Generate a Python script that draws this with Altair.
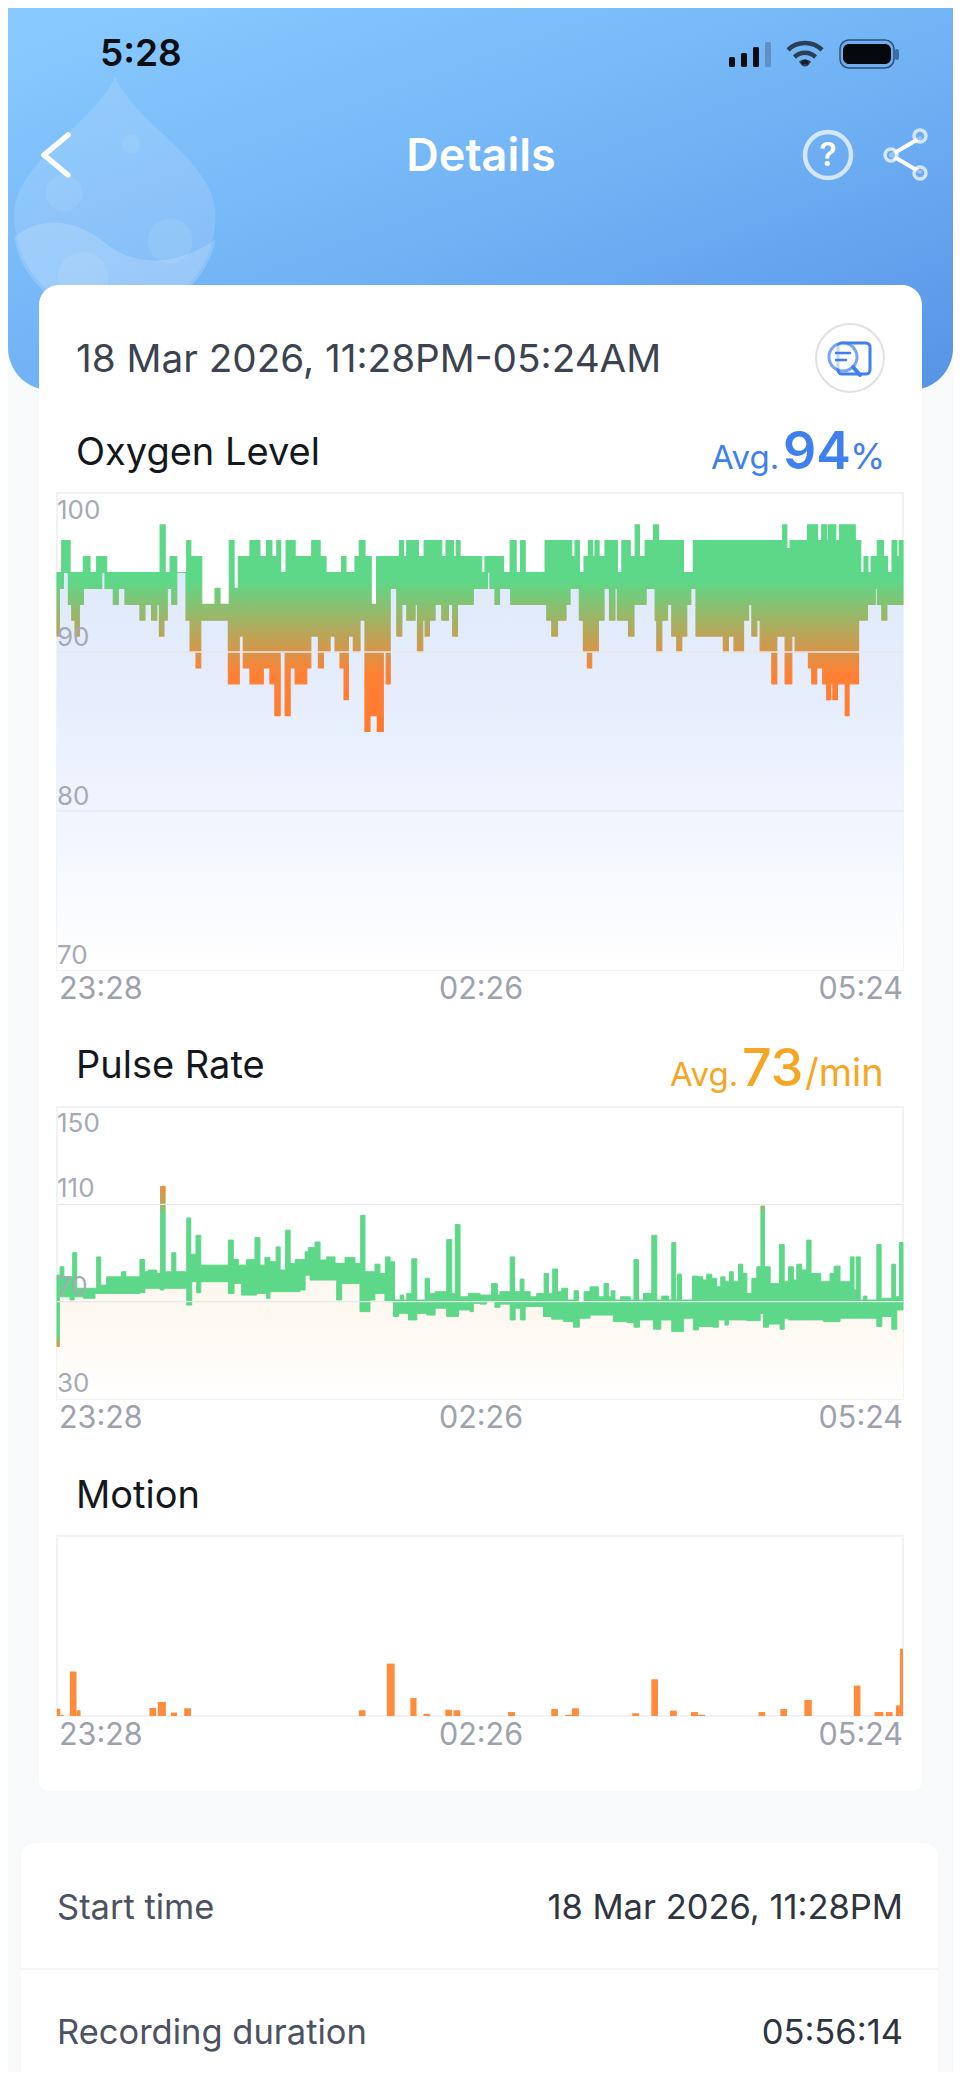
import numpy as np
import pandas as pd
import altair as alt

# minutes since 23:28, one (start, value) pair per run
spo2_hi = [(0, 95), (2, 97), (5.5, 95), (11.1, 96), (13.9, 95), (16.7, 96), (20.9, 95), (43.4, 98), (45.5, 95),
           (47.6, 96), (50.4, 95), (54.6, 97), (56.3, 96), (60.9, 93), (66.5, 94), (68.6, 93), (72.5, 97), (74.5, 94),
           (76.3, 96), (81.2, 97), (85.4, 96), (88.2, 97), (90.4, 96), (92.5, 97), (94.1, 95), (96.4, 97), (100.2, 96),
           (107.2, 97), (110.7, 96), (113.2, 95), (119.8, 96), (121.6, 95), (125.4, 96), (127.2, 97), (129.6, 96),
           (132.2, 93), (134.5, 96), (144.1, 97), (145.8, 96), (147.2, 97), (152.1, 96), (154.5, 97), (160, 96),
           (160.5, 97), (161.9, 96), (163.7, 97), (166.8, 96), (168, 97), (169.6, 96), (178.7, 95), (180.1, 96),
           (187.9, 95), (190.7, 97), (193.2, 95), (195.1, 97), (197, 95), (205.4, 97), (216.6, 96), (218, 97),
           (219.8, 95), (221.8, 96), (223.6, 97), (225.4, 96), (226.4, 97), (228.1, 96), (230.6, 97), (235.8, 95),
           (237.7, 97), (241.2, 96), (243.3, 98), (245.1, 96), (247.5, 97), (251, 98), (253.1, 97), (263.6, 95),
           (267.8, 97), (305.4, 98), (307.1, 96.5), (308.5, 97), (315.8, 98), (320, 97), (321.8, 98), (323.9, 97),
           (324.6, 98), (327.7, 97), (329.3, 98), (335.9, 97), (338.2, 95), (339.6, 96), (341.2, 95), (342.6, 96),
           (345.2, 97), (347.8, 96), (349.5, 95), (351.4, 97), (353.4, 96), (354.4, 97)]
spo2_lo = [(0, 91), (1, 94), (2.7, 95), (4.8, 93), (6.2, 92), (7.6, 91), (9.4, 93), (11.1, 94), (18.8, 95), (20.2, 94),
           (23.7, 93), (25.8, 94), (28.6, 93), (34.9, 92), (37, 93), (39.8, 92), (42, 93), (43.1, 91), (45, 92),
           (46.4, 94), (48.3, 93), (50.4, 95), (54.3, 92), (56, 90), (58.5, 89), (60.5, 92), (72.1, 88), (76.7, 91),
           (78.4, 89), (81.2, 88), (86.8, 89), (89.6, 88), (91.7, 86), (93.9, 90), (96, 86), (98.1, 89), (100.2, 88),
           (105.1, 89), (106.8, 91), (110, 89), (112.1, 90), (114.9, 91), (117, 90), (119.1, 89), (120.8, 87),
           (122.6, 91), (124.7, 90), (127.5, 92), (129.6, 85), (131.7, 86), (134.8, 85), (137.3, 90), (138.5, 88),
           (140.2, 94), (143, 91), (145.1, 93), (147.2, 92), (150.7, 93), (151.7, 90), (153.9, 92), (154.9, 91),
           (156.7, 92), (159.1, 93), (161.9, 92), (164.7, 93), (166.5, 91), (168.5, 93), (175.2, 94), (181.1, 95),
           (182.2, 94), (184.3, 93), (186.2, 94), (190.9, 93), (206.1, 92), (208.2, 91), (210.6, 92), (214.2, 93),
           (215.9, 94), (219.8, 92), (221.5, 90), (223.2, 89), (225, 90), (227.8, 92), (230.2, 94), (232.5, 92),
           (234.8, 94), (235.8, 92), (240.5, 91), (242.8, 93), (247.9, 94), (251.7, 92), (252.4, 90), (254.5, 92),
           (256.9, 93), (258.7, 91), (260.8, 90), (262.9, 91), (265, 93), (266.7, 94), (268.9, 91), (280.4, 90),
           (282.5, 91), (284.9, 90), (288.9, 92), (291, 93), (292.4, 91), (294.5, 92), (295.9, 90), (300.8, 88),
           (302.9, 91), (306.4, 88), (309.2, 91), (310.6, 90), (316.2, 89), (317.6, 88), (319.7, 89), (322.2, 88),
           (323.9, 87), (325.6, 88), (326.5, 87), (328.4, 88), (331.7, 86), (333.3, 88), (337.3, 92), (341, 93),
           (344.3, 94), (345.2, 93), (347.1, 92), (349.2, 93)]

pulse_hi = [(0, 80.9), (1.3, 84.3), (2.9, 80.2), (6.6, 90.1), (8.3, 75.5), (16.7, 88.4), (18.4, 76.8), (20.9, 80.2),
            (27.2, 82.3), (29, 80.2), (34.9, 87.3), (36.9, 82.3), (38.4, 83), (42, 81.6), (43.6, 117.4), (45.5, 82.3),
            (48.3, 90.1), (50, 82.3), (54.6, 104.4), (56.3, 89.5), (58.5, 97.3), (60.5, 85), (72.1, 95.3), (74.2, 87.3),
            (76.3, 85), (79.8, 87.3), (83.3, 96.4), (85.4, 85), (87.5, 88.2), (89.6, 86.4), (92.2, 92.5), (93.9, 83),
            (96.2, 99.4), (98.1, 85.7), (100.2, 87.3), (104.4, 90.5), (105.8, 92.3), (108.6, 94.5), (110.7, 87.1),
            (113.5, 88.4), (117, 85.7), (121.2, 88.2), (125.4, 85.7), (127.8, 105.5), (129.6, 82.3), (133.8, 85.4),
            (135.9, 81.6), (138.2, 88.4), (140.2, 86.4), (142, 70.7), (144.4, 72.7), (145.8, 70.7), (147.2, 73.4),
            (149.3, 87.6), (151.4, 70.7), (154.9, 79.6), (156.7, 73.4), (159.1, 74.1), (164, 95.5), (166.1, 73.4),
            (167.6, 101.7), (169.6, 72), (173.1, 73.4), (178, 72.7), (182.9, 77.5), (185.3, 72.7), (186.4, 74.1),
            (190.7, 88.4), (192.5, 74.1), (194.9, 79.3), (196.5, 74.1), (199.1, 72), (201.9, 73.4), (205, 81.6),
            (206.8, 73.4), (208.6, 83.4), (210.6, 74.1), (212.4, 75.5), (214.8, 70.7), (217.6, 74.5), (219.4, 70),
            (221.8, 74.1), (224.3, 76.1), (227.8, 72), (230.2, 77.5), (232, 72), (233.2, 74.5), (234.8, 70.7),
            (237.2, 72), (241.2, 70.7), (242.8, 87.3), (244.7, 70.7), (246.8, 73.4), (250.3, 97.3), (252.4, 70.7),
            (254.5, 72.3), (257.3, 70.7), (258.7, 94.3), (260.4, 70.7), (261.1, 81.3), (262.8, 70.7), (267.4, 80.5),
            (269.9, 80.2), (271.7, 78.9), (273.4, 81.3), (275.5, 79.6), (277.6, 76.1), (279.3, 80.2), (281.1, 78.2),
            (283, 82.3), (284.6, 78.2), (286.8, 85.4), (288.6, 81.6), (290.3, 73.4), (292.4, 79.6), (294.5, 84.3),
            (296.2, 109.3), (297.7, 84.3), (300.1, 77.5), (304, 93.5), (306, 78.2), (307.8, 84.3), (309.9, 78.9),
            (311.3, 85.4), (313.4, 83), (315.5, 95.3), (317.3, 81.6), (321.4, 78.2), (325.3, 81.6), (327, 84.6),
            (329.5, 78.2), (333.8, 88.4), (335.4, 74.8), (336.3, 88.4), (338, 70.7), (339.4, 72.3), (340.8, 70.7),
            (345, 93.5), (346.8, 71.4), (351.3, 85.4), (352.8, 72), (354.5, 94.3)]
pulse_lo = [(0, 51.6), (1, 72), (5.5, 70.7), (7.2, 72), (11.1, 71.4), (16, 73.4), (34.9, 73.7), (37, 75.5), (43.4, 74.8),
            (45, 75.5), (54.6, 68.6), (56.7, 78.2), (58.8, 73.7), (60.5, 78.2), (72.1, 73.4), (74.5, 77.5), (77.7, 72.7),
            (84, 73.4), (88.2, 71.4), (89.6, 74.1), (102.3, 74.8), (104.4, 80.9), (106.5, 78.9), (117.7, 70.7),
            (119.8, 77.5), (127.5, 65.9), (131.7, 70.7), (133.8, 73.4), (138, 70), (141.6, 63.9), (143.7, 65.2),
            (147.9, 62.5), (151.4, 65.2), (155.6, 64.5), (159.1, 67.3), (164, 63.9), (168.9, 66.6), (173.8, 65.9),
            (175.2, 69.3), (178, 69), (180.8, 70), (184.3, 67.7), (186.4, 69), (190.7, 62.5), (192.8, 67.3), (195.1, 62.5),
            (197, 68), (204.7, 63.9), (208.2, 62.8), (213.1, 61.8), (217.3, 59.5), (219.8, 63.2), (224.3, 64.5),
            (234.1, 61.8), (239.8, 61.4), (242.8, 59.5), (245.1, 62.5), (251, 58.7), (254.1, 62.5), (258.7, 57.7),
            (263.6, 63.2), (267.8, 58.4), (269.9, 59.8), (276.2, 59.5), (278.3, 62.5), (281.1, 60.4), (282.5, 62.5),
            (290.3, 62.2), (295.9, 65.2), (297.3, 59.5), (299.4, 60.8), (304.3, 58.7), (306, 63.2), (307.8, 62.5),
            (322.5, 61.8), (329.5, 63.2), (345, 59.8), (347.1, 63.9), (351.3, 58.7), (353.4, 66.6)]

# motion spikes: start minute, end minute, height (no scale printed, 0-100 of the box)
motion_start = [0, 1.4, 5.4, 8.2, 38.9, 42.4, 47.9, 53.5, 127, 138.8, 148.7, 154.2, 163.4, 166.9, 189.8, 208, 213.9,
                216.7, 242, 250.1, 257.9, 266.8, 269.7, 295.2, 304.4, 314.5, 335.3, 344, 348.8, 353, 354.7]
motion_end = [1.4, 2.8, 8.2, 9.9, 41.7, 45.8, 50.5, 56.4, 129.8, 142.1, 151.3, 157, 166.2, 169.7, 192.7, 210.8, 216.7,
              219.6, 244.9, 252.9, 260.8, 269.7, 272.7, 298, 307.2, 317.6, 338.1, 347.8, 351.6, 354.7, 356]
motion_val = [4.1, 0.7, 24.7, 3.2, 4.5, 7.8, 1.9, 4.3, 3.2, 29.1, 10, 1.1, 3.5, 3.2, 2.2, 3.9, 0.7, 4.3, 1.5, 20.4, 3,
              2.2, 0.7, 2.2, 3.9, 8.9, 16.9, 2.2, 2.2, 5.9, 37.3]

time_ticks = [0, 178, 356]
time_labels = ['23:28', '02:26', '05:24']
spo2_ticks = [100, 90, 80, 70]
pulse_ticks = [150, 110, 70, 30]

FONT = 'Inter'
BLUE = '#3F80EE'
AMBER = '#F5A623'
GREEN = '#5CD888'
TICK = '#A6AAB4'
GRID = '#ECEEF1'

one = pd.DataFrame({'a': [0]})


def px(v):
    # reference pixels to chart pixels (page margin)
    return v - 8


def label(txt, x, y, size, color, weight=400, align='left', baseline='middle'):
    return alt.Chart(one).mark_text(font=FONT, fontSize=size, fontWeight=weight, color=color, align=align,
                                    baseline=baseline).encode(
        x=alt.value(px(x)), y=alt.value(px(y)), text=alt.value(txt))


def box(x0, y0, x1, y1, **kw):
    return alt.Chart(one).mark_rect(**kw).encode(
        x=alt.value(px(x0)), x2=alt.value(px(x1)), y=alt.value(px(y0)), y2=alt.value(px(y1)))


def seg(x0, y0, x1, y1, color, w):
    return alt.Chart(one).mark_rule(color=color, strokeWidth=w, strokeCap='round').encode(
        x=alt.value(px(x0)), x2=alt.value(px(x1)), y=alt.value(px(y0)), y2=alt.value(px(y1)))


def dot(x, y, r, **kw):
    return alt.Chart(one).mark_point(shape='circle', size=4 * r * r, **kw).encode(
        x=alt.value(px(x)), y=alt.value(px(y)))


def glyph(x, y, r, path, **kw):
    return alt.Chart(one).mark_point(shape=path, size=4 * r * r, **kw).encode(
        x=alt.value(px(x)), y=alt.value(px(y)))


def grad(stops, x1=0, y1=0, x2=0, y2=1):
    return alt.Gradient(gradient='linear', x1=x1, y1=y1, x2=x2, y2=y2,
                        stops=[alt.GradientStop(offset=o, color=c) for o, c in stops])


def runs_to_frame(hi, lo):
    # the two envelopes change at different minutes, so line them up on all break points
    t_hi, v_hi = map(np.array, zip(*hi))
    t_lo, v_lo = map(np.array, zip(*lo))
    t = np.unique(np.concatenate([t_hi, t_lo, [356]]))
    return pd.DataFrame({
        't': t,
        'hi': v_hi[np.searchsorted(t_hi, t, side='right') - 1],
        'lo': v_lo[np.searchsorted(t_lo, t, side='right') - 1],
    })


def panel(df, ticks, domain, top, bottom, tick_dy, grid, band, fill, stroke_w):
    xs = alt.Scale(domain=[0, 356], range=[px(57), px(903)], nice=False, zero=False)
    ys = alt.Scale(domain=domain, range=[px(bottom), px(top)], nice=False, zero=False)
    x = alt.X('t:Q', scale=xs, axis=None)
    y = alt.Y('hi:Q', scale=ys, axis=None)
    base = df.assign(floor=domain[0])
    out = [
        box(57, top, 903, bottom, fill='#FFFFFF', stroke=GRID, strokeWidth=1.5),
        alt.Chart(base).mark_area(fill=fill, interpolate='step-after').encode(x=x, y=y, y2='floor:Q'),
        alt.Chart(base).mark_area(fill=band, stroke=band, strokeWidth=stroke_w, strokeJoin='round',
                                  interpolate='step-after').encode(x=x, y=y, y2='lo:Q'),
        alt.Chart(pd.DataFrame({'v': grid})).mark_rule(color='#E6E9EE', strokeWidth=1.4).encode(
            x=alt.value(px(57)), x2=alt.value(px(903)), y=alt.Y('v:Q', scale=ys, axis=None)),
    ]
    for tick, dy in zip(ticks, tick_dy):
        out.append(alt.Chart(pd.DataFrame({'v': [tick]})).mark_text(
            font=FONT, fontSize=26, color=TICK, align='left', baseline='middle', dx=0, dy=dy).encode(
            x=alt.value(px(57)), y=alt.Y('v:Q', scale=ys, axis=None), text='v:Q'))
    return out


def time_axis(y):
    xs = alt.Scale(domain=[0, 356], range=[px(57), px(903)], nice=False, zero=False)
    out = []
    for tick, txt, align, dx in zip(time_ticks, time_labels, ['left', 'center', 'right'], [2, 1, 0]):
        out.append(alt.Chart(pd.DataFrame({'t': [tick], 's': [txt]})).mark_text(
            font=FONT, fontSize=30.5, color='#9DA2AD', align=align, baseline='middle', dx=dx).encode(
            x=alt.X('t:Q', scale=xs, axis=None), y=alt.value(px(y)), text='s:N'))
    return out


header_fill = grad([(0, '#88C9FF'), (0.55, '#6FB0F4'), (1, '#5793E6')], x1=0.1, y1=0, x2=1, y2=1)
spo2_band = grad([(0, GREEN), (0.27, GREEN), (0.72, '#FF8034'), (1, '#FF7A30')])
spo2_fill = grad([(0, '#DEE8FB'), (0.4, '#E6EEFD'), (0.7, '#F3F6FE'), (1, '#FFFFFF')])
pulse_band = grad([(0, '#EE8F3A'), (0.1, '#B9A653'), (0.17, GREEN), (0.92, GREEN), (1, '#D9963F')])
pulse_fill = grad([(0, '#FDF6EC'), (0.6, '#FDF8F0'), (1, '#FFFFFF')])

DROP = ('M0,-0.98 C-0.2,-0.55 -0.875,-0.25 -0.875,0.22 C-0.875,0.72 -0.48,1.09 0,1.09 '
        'C0.48,1.09 0.875,0.72 0.875,0.22 C0.875,-0.25 0.2,-0.55 0,-0.98 Z')
WAVE = ('M-0.875,0.41 C-0.65,0.22 -0.35,0.25 -0.1,0.45 C0.1,0.62 0.45,0.72 0.875,0.43 '
        'C0.8,0.8 0.48,1.09 0,1.09 C-0.48,1.09 -0.82,0.8 -0.875,0.41 Z')
WIFI = ('M-1,-0.3 A1.45,1.45 0 0 1 1,-0.3 M-0.62,0.12 A0.9,0.9 0 0 1 0.62,0.12 '
        'M-0.27,0.5 A0.4,0.4 0 0 1 0.27,0.5')

layers = [
    box(8, 8, 953, 2100, fill='#F8F9FB'),
    box(8, 8, 953, 390, fill=header_fill, cornerRadiusBottomLeft=42, cornerRadiusBottomRight=42),
    glyph(115, 190, 115, DROP, filled=True, fill='#FFFFFF', opacity=0.13, strokeWidth=0),
    glyph(115, 190, 115, WAVE, filled=True, fill='#FFFFFF', opacity=0.17, strokeWidth=0),
    dot(131, 144, 9, filled=True, fill='#FFFFFF', opacity=0.08, stroke='#FFFFFF', strokeWidth=1),
    dot(64, 193, 18, filled=True, fill='#FFFFFF', opacity=0.08, stroke='#FFFFFF', strokeWidth=1),
    dot(170, 241, 22, filled=True, fill='#FFFFFF', opacity=0.08, stroke='#FFFFFF', strokeWidth=1),
    dot(83, 277, 25, filled=True, fill='#FFFFFF', opacity=0.08, stroke='#FFFFFF', strokeWidth=1),

    # status bar
    label('5:28', 100, 55, 37, '#0B0F14', 600),
    box(729, 57, 735, 67, fill='#0B0F14', cornerRadius=1.5),
    box(741, 53, 747, 67, fill='#0B0F14', cornerRadius=1.5),
    box(753, 47, 759, 67, fill='#0B0F14', cornerRadius=1.5),
    box(765, 42, 771, 67, fill='#5F8FC4', cornerRadius=1.5),
    glyph(805, 55, 17, WIFI, filled=False, stroke='#0B0F14', strokeWidth=4.5),
    dot(805, 63, 3.5, filled=True, fill='#0B0F14', strokeWidth=0),
    box(840, 40, 894, 68, fill='#6FAEF0', stroke='#2F4F75', strokeWidth=1.5, cornerRadius=9),
    box(843, 44, 891, 64, fill='#05080C', cornerRadius=6),
    box(895, 49, 899, 60, fill='#3D6DA5', cornerRadius=2),

    # nav bar
    seg(68, 135, 44, 155, '#FFFFFF', 5.5),
    seg(44, 155, 68, 175, '#FFFFFF', 5.5),
    label('Details', 481, 157, 45, '#FFFFFF', 600, align='center'),
    dot(828, 155, 23, filled=False, stroke='#FFFFFF', strokeWidth=4.5),
    label('?', 828, 156, 32, '#FFFFFF', 600, align='center'),
    seg(920, 138, 891, 155, '#FFFFFF', 4),
    seg(891, 155, 920, 172, '#FFFFFF', 4),
    dot(920, 136, 6, filled=True, fill='#6EAAF0', stroke='#FFFFFF', strokeWidth=3.5),
    dot(891, 155, 6, filled=True, fill='#6EAAF0', stroke='#FFFFFF', strokeWidth=3.5),
    dot(920, 173, 6, filled=True, fill='#6EAAF0', stroke='#FFFFFF', strokeWidth=3.5),

    # card
    box(39, 285, 922, 1791, fill='#FFFFFF', cornerRadiusTopLeft=20, cornerRadiusTopRight=20,
        cornerRadiusBottomLeft=10, cornerRadiusBottomRight=10),
    label('18 Mar 2026, 11:28PM-05:24AM', 76, 360, 38.7, '#3C4350'),
    dot(850, 358, 34, filled=True, fill='#FFFFFF', stroke='#D3D5DA', strokeWidth=2),
    box(838, 343, 870, 374, fill='#FFFFFF', stroke=BLUE, strokeWidth=3, cornerRadius=4),
    dot(843, 357, 14, filled=True, fill='#FFFFFF', stroke=BLUE, strokeWidth=3),
    seg(836, 353, 850, 353, BLUE, 2.5),
    seg(836, 360, 846, 360, BLUE, 2.5),
    seg(853, 367, 860, 375, BLUE, 4),

    label('Oxygen Level', 76, 454, 38, '#14171C'),
    label('Avg.', 711, 469, 33, BLUE, baseline='alphabetic'),
    label('94', 783, 469, 52, BLUE, 600, baseline='alphabetic'),
    label('%', 850, 469, 36, BLUE, baseline='alphabetic'),

    label('Pulse Rate', 76, 1067, 38, '#14171C'),
    label('Avg.', 670, 1086, 33, AMBER, baseline='alphabetic'),
    label('73', 742, 1086, 52, AMBER, 500, baseline='alphabetic'),
    label('/min', 805, 1086, 38, AMBER, baseline='alphabetic'),

    label('Motion', 76, 1497, 38, '#14171C'),

    # details table below the card
    box(21, 1843, 938, 2100, fill='#FFFFFF', cornerRadiusTopLeft=14, cornerRadiusTopRight=14),
    label('Start time', 57, 1909, 34.5, '#4C5261'),
    label('18 Mar 2026, 11:28PM', 903, 1909, 34.5, '#2F3540', align='right'),
    seg(21, 1969, 938, 1969, '#F1F2F5', 1.5),
    label('Recording duration', 57, 2034, 34.5, '#4C5261'),
    label('05:56:14', 903, 2034, 34.5, '#2F3540', align='right'),
]

layers += panel(runs_to_frame(spo2_hi, spo2_lo), spo2_ticks, [70, 100], 493, 970, [18, -14, -14, -14],
                [90, 80], spo2_band, spo2_fill, 1.2)
layers += time_axis(990)
layers += panel(runs_to_frame(pulse_hi, pulse_lo), pulse_ticks, [30, 150], 1107, 1399, [17, -15, -15, -15],
                [110, 70], pulse_band, pulse_fill, 1.0)
layers += time_axis(1419)

motion_df = pd.DataFrame({'t': motion_start, 't2': motion_end, 'v': motion_val, 'floor': 0})
layers += [
    box(57, 1536, 903, 1716, fill='#FFFFFF', stroke=GRID, strokeWidth=1.5),
    alt.Chart(motion_df).mark_rect(color='#FF8C3C').encode(
        x=alt.X('t:Q', scale=alt.Scale(domain=[0, 356], range=[px(57), px(903)], nice=False, zero=False), axis=None),
        x2='t2:Q',
        y=alt.Y('v:Q', scale=alt.Scale(domain=[0, 100], range=[px(1716), px(1536)], nice=False, zero=False), axis=None),
        y2='floor:Q'),
]
layers += time_axis(1736)

chart = alt.layer(*layers).resolve_scale(x='independent', y='independent').properties(
    width=945, height=2064, padding=0, autosize=alt.AutoSizeParams(type='none'), background='#F8F9FB'
).configure_view(strokeWidth=0)

chart.save('out.html', embed_options={"renderer": "svg", "actions": False})
